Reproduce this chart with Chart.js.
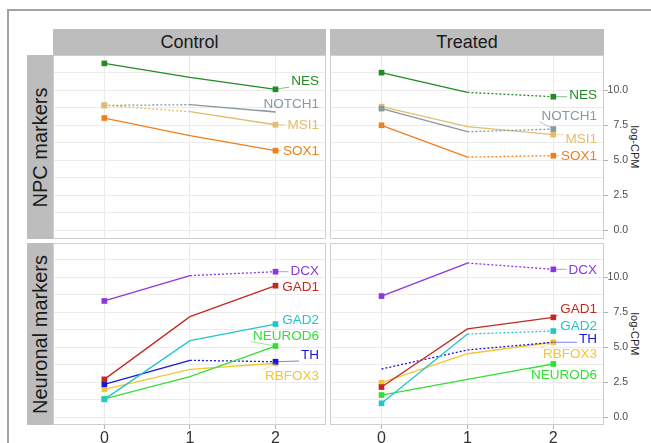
<!DOCTYPE html>
<html>
<head>
<meta charset="utf-8">
<script src="https://cdn.jsdelivr.net/npm/chart.js@4.4.0/dist/chart.umd.min.js"></script>
<style>
    body { margin: 0; background: #fff; width: 651px; height: 443px; overflow: hidden; position: relative; font-family: "Liberation Sans", Arial, sans-serif; }
    .frame { position: absolute; left: 7px; top: 9px; width: 700px; height: 500px; border-left: 2px solid #a3a3a3; border-top: 2px solid #a3a3a3; }
    .strip { position: absolute; background: #bdbdbd; color: #1a1a1a; display: flex; align-items: center; justify-content: center; }
    .strip.col { font-size: 18px; }
    .strip.row span { transform: rotate(-90deg); white-space: nowrap; font-size: 20px; }
    .ytitle { position: absolute; width: 20px; display: flex; align-items: center; justify-content: center; }
    .ytitle span { transform: rotate(90deg); white-space: nowrap; font-size: 11px; color: #222; }
    canvas { position: absolute; }
</style>
</head>
<body>
<div class="frame"></div>
<div class="strip col" style="left:53px;top:29px;width:273px;height:26px;">Control</div>
<div class="strip col" style="left:330px;top:29px;width:274px;height:26px;">Treated</div>
<div class="strip row" style="left:27px;top:55px;width:26px;height:184px;"><span>NPC markers</span></div>
<div class="strip row" style="left:27px;top:243px;width:26px;height:182px;"><span>Neuronal markers</span></div>
<div class="ytitle" style="left:625px;top:55px;height:184px;"><span>log-CPM</span></div>
<div class="ytitle" style="left:625px;top:243px;height:182px;"><span>log-CPM</span></div>
<canvas id="npcControl" width="273" height="184" style="left:53px;top:55px;"></canvas>
<canvas id="npcTreated" width="298" height="184" style="left:330px;top:55px;"></canvas>
<canvas id="neuControl" width="273" height="200" style="left:53px;top:243px;"></canvas>
<canvas id="neuTreated" width="298" height="200" style="left:330px;top:243px;"></canvas>
<script>
// data (log-CPM per time point)
const timepoints = [0, 1, 2];
const yTickLabels = [0, 2.5, 5, 7.5, 10];
const yGridLines = [0, 1.25, 2.5, 3.75, 5, 6.25, 7.5, 8.75, 10, 11.25];

const npcGenes = ["NES", "NOTCH1", "MSI1", "SOX1"];
const neuronalGenes = ["DCX", "GAD1", "GAD2", "NEUROD6", "TH", "RBFOX3"];

const npcControl = [
    [11.9, 10.9, 10.05],
    [8.9, 8.95, 8.43],
    [8.9, 8.45, 7.52],
    [8.0, 6.74, 5.67],
];
const npcTreated = [
    [11.24, 9.83, 9.52],
    [8.67, 7.02, 7.21],
    [8.81, 7.38, 6.81],
    [7.48, 5.21, 5.31],
];
const neuronalControl = [
    [8.31, 10.12, 10.4],
    [2.71, 7.19, 9.4],
    [1.28, 5.47, 6.66],
    [1.31, 2.9, 5.09],
    [2.36, 4.07, 3.97],
    [2.0, 3.43, 3.86],
];
const neuronalTreated = [
    [8.66, 11.02, 10.57],
    [2.16, 6.31, 7.14],
    [1.0, 5.95, 6.16],
    [1.59, 2.71, 3.81],
    [3.45, 4.81, 5.36],
    [2.47, 4.54, 5.36],
];

// where the repelled labels sit (log-CPM units)
const labelYNpcControl = [10.64, 9.0, 7.5, 5.64];
const labelYNpcTreated = [9.69, 8.17, 6.55, 5.29];
const labelYNeuControl = [10.45, 9.33, 7.0, 5.83, 4.45, 2.95];
const labelYNeuTreated = [10.57, 7.74, 6.57, 3.04, 5.59, 4.57];

// which segments are dotted (0 = 0->1, 1 = 1->2)
const dottedNpcControl = [[], [0], [0], []];
const dottedNpcTreated = [[1], [1], [], [1]];
const dottedNeuControl = [[1], [], [], [], [1], []];
const dottedNeuTreated = [[1], [], [1], [], [0, 1], []];

// points without a square marker
const hiddenNpcControl = [[], [2], [], []];
const hiddenNeuTreated = [[], [], [], [], [0, 2], []];

// draw order per panel (lower = on top)
const orderNpcControl = [0, 2, 1, 3];

const geneColors = {
    NES: "#238b23",
    NOTCH1: "#8799a2",
    MSI1: "#e3bd6c",
    SOX1: "#ef7f1c",
    DCX: "#8c36e0",
    GAD1: "#c22a21",
    GAD2: "#22c6c9",
    NEUROD6: "#33df33",
    TH: "#1717d9",
    RBFOX3: "#f4c534",
};

const FONT = "'Liberation Sans', Arial, sans-serif";
Chart.defaults.font.family = FONT;

// gene names at the right end, with a faint connector like ggrepel
const geneLabels = {
    id: "geneLabels",
    afterDatasetsDraw(chart, args, opts) {
        const { ctx, chartArea } = chart;
        const xs = chart.scales.x;
        const ys = chart.scales.y;
        ctx.save();
        ctx.font = "13.5px " + FONT;
        ctx.textAlign = "right";
        ctx.textBaseline = "middle";
        opts.genes.forEach((g, i) => {
            const color = geneColors[g];
            const right = chartArea.right - 7;
            const left = right - ctx.measureText(g).width;
            const ly = ys.getPixelForValue(opts.labelY[i]);
            const v = chart.data.datasets[i].data[2].y;
            const px = xs.getPixelForValue(timepoints[2]);
            const py = ys.getPixelForValue(v);
            const ex = left - 2;
            const ey = Math.max(ly - 6, Math.min(ly + 6, py));
            if (Math.hypot(ex - px, ey - py) > 5) {
                ctx.globalAlpha = 0.55;
                ctx.strokeStyle = color;
                ctx.lineWidth = 1;
                ctx.beginPath();
                ctx.moveTo(px, py);
                ctx.lineTo(ex, ey);
                ctx.stroke();
                ctx.globalAlpha = 1;
            }
            ctx.fillStyle = color;
            ctx.fillText(g, right, ly + 0.5);
        });
        ctx.restore();
    },
};

const panelBorder = {
    id: "panelBorder",
    afterDraw(chart) {
        const { ctx, chartArea } = chart;
        ctx.save();
        ctx.strokeStyle = "#cfcfcf";
        ctx.lineWidth = 1;
        ctx.strokeRect(chartArea.left + 0.5, chartArea.top + 0.5, chartArea.width - 1, chartArea.height - 1);
        ctx.restore();
    },
};

function makePanel(id, genes, values, labelY, dotted, hidden, order, opt) {
    const datasets = genes.map((g, i) => {
        const skip = hidden[i] || [];
        return {
            label: g,
            data: timepoints.map((t, j) => ({ x: t, y: values[i][j] })),
            order: order ? order[i] : i,
            borderColor: geneColors[g],
            backgroundColor: geneColors[g],
            borderWidth: 1.3,
            pointStyle: "rect",
            pointRadius: timepoints.map((t, j) => (j === 1 || skip.includes(j) ? 0 : 4)),
            pointHoverRadius: 0,
            pointBorderWidth: 0,
            segment: {
                borderDash: (ctx) => (dotted[i].includes(ctx.p0DataIndex) ? [2, 2] : undefined),
            },
        };
    });

    const isMajor = (v) => yTickLabels.includes(v);

    new Chart(document.getElementById(id), {
        type: "line",
        data: { datasets },
        plugins: [geneLabels, panelBorder],
        options: {
            responsive: false,
            animation: false,
            events: [],
            layout: { padding: 0, autoPadding: false },
            plugins: {
                legend: { display: false },
                tooltip: { enabled: false },
                geneLabels: { genes, labelY },
            },
            scales: {
                x: {
                    type: "linear",
                    min: -0.6,
                    max: 2.59,
                    afterBuildTicks: (s) => { s.ticks = timepoints.map((v) => ({ value: v })); },
                    afterFit: (s) => {
                        s.height = opt.showX ? 18 : 0;
                        s.paddingLeft = 0;
                        s.paddingRight = 0;
                    },
                    border: { display: false },
                    grid: { color: "#ebebeb", lineWidth: 1, drawTicks: opt.showX, tickLength: 4, tickColor: "#b3b3b3" },
                    ticks: {
                        display: opt.showX,
                        padding: 0,
                        maxRotation: 0,
                        color: "#333",
                        font: { size: 16 },
                        callback: (v) => String(v),
                    },
                },
                y: {
                    type: "linear",
                    position: "right",
                    min: opt.yMin,
                    max: opt.yMax,
                    afterBuildTicks: (s) => { s.ticks = yGridLines.map((v) => ({ value: v })); },
                    afterFit: (s) => {
                        s.width = opt.showY ? 24 : 0;
                        s.paddingTop = 0;
                        s.paddingBottom = 0;
                    },
                    border: { display: false },
                    grid: {
                        color: "#ebebeb",
                        lineWidth: 1,
                        drawTicks: opt.showY,
                        tickLength: 4,
                        tickColor: (c) => (c.tick && isMajor(c.tick.value) ? "#b3b3b3" : "rgba(0,0,0,0)"),
                    },
                    ticks: {
                        display: opt.showY,
                        padding: 2,
                        crossAlign: "far",
                        color: "#4d4d4d",
                        font: { size: 10.5 },
                        callback: (v) => (isMajor(v) ? v.toFixed(1) : ""),
                    },
                },
            },
        },
    });
}

makePanel("npcControl", npcGenes, npcControl, labelYNpcControl, dottedNpcControl, hiddenNpcControl, orderNpcControl,
    { showX: false, showY: false, yMin: -0.64, yMax: 12.5 });
makePanel("npcTreated", npcGenes, npcTreated, labelYNpcTreated, dottedNpcTreated, [], null,
    { showX: false, showY: true, yMin: -0.64, yMax: 12.5 });
makePanel("neuControl", neuronalGenes, neuronalControl, labelYNeuControl, dottedNeuControl, [], null,
    { showX: true, showY: false, yMin: -0.55, yMax: 12.45 });
makePanel("neuTreated", neuronalGenes, neuronalTreated, labelYNeuTreated, dottedNeuTreated, hiddenNeuTreated, null,
    { showX: true, showY: true, yMin: -0.55, yMax: 12.45 });
</script>
</body>
</html>
